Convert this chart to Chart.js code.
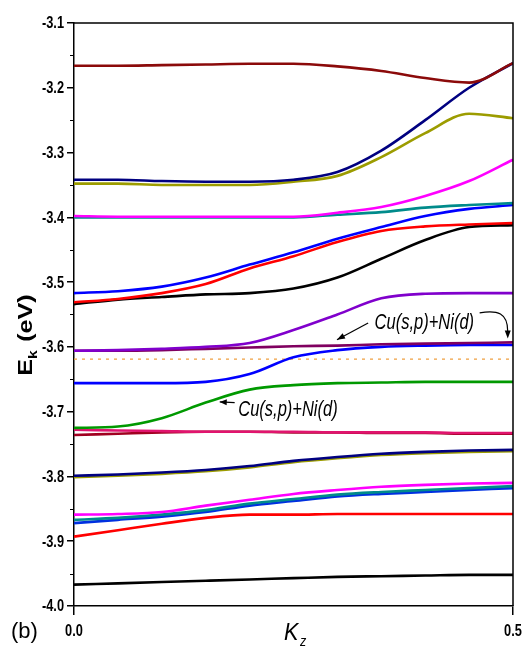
<!DOCTYPE html>
<html>
<head>
<meta charset="utf-8">
<script src="https://cdn.jsdelivr.net/npm/chart.js@4.4.0/dist/chart.umd.min.js"></script>
<style>
  html, body { margin: 0; padding: 0; background: #fff; }
  #wrap { width: 522px; height: 648px; position: relative; }
</style>
</head>
<body>
<div id="wrap"><canvas id="myChart"></canvas></div>
<script>
// k points along z
const kz = [0, 0.05, 0.1, 0.15, 0.2, 0.25, 0.3, 0.35, 0.4, 0.45, 0.5];
const xTicks = [0, 0.5];
const yMin = -4.0;
const yMax = -3.1;
const fermiLevel = -3.619;

// bands, top to bottom (eV)
const bandTopRed = [-3.166, -3.166, -3.165, -3.164, -3.163, -3.163, -3.167, -3.174, -3.185, -3.192, -3.162];
const bandNavy = [-3.342, -3.342, -3.344, -3.345, -3.345, -3.342, -3.330, -3.297, -3.250, -3.200, -3.162];
const bandOlive = [-3.348, -3.348, -3.350, -3.350, -3.350, -3.345, -3.336, -3.307, -3.270, -3.240, -3.247];
const bandMagenta = [-3.398, -3.399, -3.399, -3.399, -3.399, -3.399, -3.393, -3.384, -3.367, -3.344, -3.311];
const bandTeal = [-3.400, -3.400, -3.400, -3.400, -3.400, -3.400, -3.396, -3.392, -3.385, -3.381, -3.378];
const bandBlue = [-3.517, -3.514, -3.507, -3.493, -3.473, -3.454, -3.433, -3.415, -3.398, -3.387, -3.381];
const bandRed = [-3.531, -3.526, -3.517, -3.503, -3.479, -3.460, -3.438, -3.421, -3.414, -3.411, -3.409];
const bandBlack = [-3.534, -3.527, -3.523, -3.519, -3.517, -3.510, -3.493, -3.464, -3.435, -3.415, -3.412];
const bandViolet = [-3.606, -3.605, -3.603, -3.600, -3.594, -3.574, -3.550, -3.525, -3.518, -3.517, -3.517];
const bandPurple = [-3.606, -3.606, -3.605, -3.603, -3.601, -3.599, -3.598, -3.596, -3.595, -3.594, -3.593];
const bandBlue2 = [-3.656, -3.656, -3.656, -3.654, -3.642, -3.616, -3.605, -3.600, -3.598, -3.597, -3.597];
const bandGreen = [-3.725, -3.723, -3.710, -3.686, -3.666, -3.659, -3.656, -3.655, -3.654, -3.654, -3.654];
const bandPink = [-3.728, -3.729, -3.730, -3.731, -3.731, -3.731, -3.732, -3.732, -3.732, -3.733, -3.733];
const bandDarkRed = [-3.736, -3.734, -3.732, -3.731, -3.731, -3.732, -3.732, -3.733, -3.733, -3.734, -3.734];
const bandNavy2 = [-3.799, -3.797, -3.794, -3.790, -3.784, -3.776, -3.770, -3.765, -3.762, -3.760, -3.759];
const bandOlive2 = [-3.801, -3.799, -3.796, -3.792, -3.786, -3.778, -3.772, -3.767, -3.764, -3.762, -3.761];
const bandMagenta2 = [-3.859, -3.858, -3.855, -3.845, -3.836, -3.827, -3.821, -3.816, -3.813, -3.811, -3.810];
const bandTeal2 = [-3.867, -3.864, -3.859, -3.852, -3.842, -3.835, -3.828, -3.824, -3.821, -3.818, -3.815];
const bandBlue3 = [-3.872, -3.867, -3.862, -3.855, -3.845, -3.838, -3.831, -3.827, -3.824, -3.821, -3.818];
const bandRed2 = [-3.893, -3.883, -3.873, -3.864, -3.859, -3.859, -3.858, -3.858, -3.858, -3.858, -3.858];
const bandBlack2 = [-3.967, -3.965, -3.963, -3.961, -3.959, -3.957, -3.955, -3.954, -3.953, -3.952, -3.952];

const sans = "'Liberation Sans', Arial, sans-serif";

// first in list is drawn on top
const bands = [
  [bandTopRed, "#8b0a0a"],
  [bandNavy, "#000080"],
  [bandOlive, "#9c9c00"],
  [bandMagenta, "#ff00ff"],
  [bandTeal, "#008b8b"],
  [bandBlue, "#0000ff"],
  [bandRed, "#ff0000"],
  [bandBlack, "#000000"],
  [bandViolet, "#8000cc"],
  [bandPurple, "#800060"],
  [bandBlue2, "#0000ff"],
  [bandGreen, "#009900"],
  [bandPink, "#e0146e"],
  [bandDarkRed, "#a00020"],
  [bandNavy2, "#000080"],
  [bandOlive2, "#9c9c00"],
  [bandMagenta2, "#ff00ff"],
  [bandTeal2, "#008b8b"],
  [bandBlue3, "#0030e0"],
  [bandRed2, "#ff0000"],
  [bandBlack2, "#000000"],
];

const datasets = bands.map(function (b) {
  return {
    data: kz.map(function (k, i) { return { x: k, y: b[0][i] }; }),
    borderColor: b[1],
    borderWidth: 2.6,
    pointRadius: 0,
    cubicInterpolationMode: "monotone",
    fill: false,
  };
});
datasets.push({
  data: [{ x: kz[0], y: fermiLevel }, { x: kz[kz.length - 1], y: fermiLevel }],
  borderColor: "#f0a040",
  borderWidth: 1.2,
  borderDash: [3, 5],
  pointRadius: 0,
});

function arrowHead(ctx, x, y, ang, len, w) {
  ctx.save();
  ctx.translate(x, y);
  ctx.rotate(ang);
  ctx.beginPath();
  ctx.moveTo(0, 0);
  ctx.lineTo(-len, -w);
  ctx.lineTo(-len, w);
  ctx.closePath();
  ctx.fill();
  ctx.restore();
}

// narrow text: the original font is condensed
function narrowText(ctx, txt, x, y, sx) {
  ctx.save();
  ctx.translate(x, y);
  ctx.scale(sx, 1);
  ctx.fillText(txt, 0, 0);
  ctx.restore();
}

// frame, minor ticks, tick labels, titles and the notes
const extras = {
  id: "extras",
  afterDraw(chart) {
    const ctx = chart.ctx;
    const a = chart.chartArea;
    const xs = chart.scales.x;
    const ys = chart.scales.y;
    ctx.save();
    ctx.strokeStyle = "#000";
    ctx.fillStyle = "#000";
    ctx.lineWidth = 1.5;
    ctx.beginPath();
    ctx.moveTo(a.left, a.top);
    ctx.lineTo(a.right, a.top);
    ctx.lineTo(a.right, a.bottom);
    ctx.stroke();
    // minor ticks between labels
    ctx.lineWidth = 1;
    for (let v = yMin + 0.05; v < yMax; v += 0.1) {
      const py = Math.round(ys.getPixelForValue(v)) + 0.5;
      ctx.beginPath();
      ctx.moveTo(a.left - 4, py);
      ctx.lineTo(a.left, py);
      ctx.stroke();
    }

    // tick labels from the scales
    ctx.font = "bold 16px " + sans;
    ctx.textBaseline = "middle";
    ctx.textAlign = "right";
    ys.ticks.forEach(function (t) {
      narrowText(ctx, t.value.toFixed(1), a.left - 10, ys.getPixelForValue(t.value) + 1, 0.8);
    });
    ctx.textAlign = "center";
    xs.ticks.forEach(function (t) {
      narrowText(ctx, t.value.toFixed(1), xs.getPixelForValue(t.value), a.bottom + 26, 0.8);
    });

    // y title, stretched like the original
    ctx.save();
    ctx.translate(25, 335);
    ctx.rotate(-Math.PI / 2);
    ctx.scale(1.2, 1);
    ctx.textAlign = "left";
    ctx.textBaseline = "alphabetic";
    ctx.font = "bold 21px " + sans;
    const wE = ctx.measureText("E").width;
    const wRest = ctx.measureText("(eV)").width;
    ctx.font = "bold 13px " + sans;
    const wK = ctx.measureText("k").width;
    const gap = 7;
    let tx = -(wE + wK + gap + wRest) / 2;
    ctx.font = "bold 21px " + sans;
    ctx.fillText("E", tx, 7);
    tx += wE;
    ctx.font = "bold 13px " + sans;
    ctx.fillText("k", tx, 12);
    tx += wK + gap;
    ctx.font = "bold 21px " + sans;
    ctx.fillText("(eV)", tx, 7);
    ctx.restore();

    // x title
    ctx.textAlign = "left";
    ctx.textBaseline = "alphabetic";
    ctx.font = "italic 24px " + sans;
    narrowText(ctx, "K", 284, 640, 0.9);
    ctx.font = "italic 14px " + sans;
    narrowText(ctx, "z", 300, 646, 0.9);

    // panel letter
    ctx.font = "22px " + sans;
    ctx.fillText("(b)", 11, 638);

    // notes
    ctx.font = "italic 22px " + sans;
    ctx.textAlign = "center";
    ctx.textBaseline = "middle";
    narrowText(ctx, "Cu(s,p)+Ni(d)", xs.getPixelForValue(0.399), ys.getPixelForValue(-3.563), 0.75);
    narrowText(ctx, "Cu(s,p)+Ni(d)", xs.getPixelForValue(0.2437), ys.getPixelForValue(-3.697), 0.75);

    ctx.lineWidth = 1.2;
    // arrow 1 to the violet/purple pair
    let x1 = xs.getPixelForValue(0.335), y1 = ys.getPixelForValue(-3.563);
    let x2 = xs.getPixelForValue(0.2995), y2 = ys.getPixelForValue(-3.589);
    ctx.beginPath();
    ctx.moveTo(x1, y1);
    ctx.lineTo(x2, y2);
    ctx.stroke();
    arrowHead(ctx, x2, y2, Math.atan2(y2 - y1, x2 - x1), 8, 3);

    // curved arrow at the zone edge
    x1 = xs.getPixelForValue(0.462); y1 = ys.getPixelForValue(-3.5475);
    x2 = xs.getPixelForValue(0.494); y2 = ys.getPixelForValue(-3.587);
    ctx.beginPath();
    ctx.moveTo(x1, y1);
    ctx.bezierCurveTo(x1 + 18, y1 - 3, x2, y1, x2, y2 - 7);
    ctx.stroke();
    arrowHead(ctx, x2, y2, Math.PI / 2, 8, 3);

    // arrow to the green band
    x1 = xs.getPixelForValue(0.183); y1 = ys.getPixelForValue(-3.686);
    x2 = xs.getPixelForValue(0.166); y2 = ys.getPixelForValue(-3.685);
    ctx.beginPath();
    ctx.moveTo(x1, y1);
    ctx.lineTo(x2, y2);
    ctx.stroke();
    arrowHead(ctx, x2, y2, Math.atan2(y2 - y1, x2 - x1), 7, 3);
    ctx.restore();
  },
};

const ctx = document.querySelector("#myChart");
const chart = new Chart(ctx, {
  type: "line",
  data: { datasets: datasets },
  options: {
    responsive: true,
    maintainAspectRatio: false,
    animation: false,
    devicePixelRatio: 1,
    layout: { padding: { top: 23, right: 9, bottom: 0, left: 0 } },
    plugins: { legend: { display: false }, tooltip: { enabled: false } },
    scales: {
      x: {
        type: "linear",
        min: 0,
        max: 0.5,
        afterBuildTicks: function (s) {
          s.ticks = xTicks.map(function (v) { return { value: v }; });
        },
        afterFit: function (s) {
          s.height = 42;
          s.paddingLeft = 0;
          s.paddingRight = 0;
        },
        ticks: { display: false },
        grid: { drawOnChartArea: false, tickLength: 9, color: "#000", lineWidth: 1.5 },
        border: { color: "#000", width: 1.5 },
      },
      y: {
        type: "linear",
        min: yMin,
        max: yMax,
        afterFit: function (s) {
          s.width = 74;
          s.paddingTop = 0;
          s.paddingBottom = 0;
        },
        ticks: { display: false, stepSize: 0.1 },
        grid: { drawOnChartArea: false, tickLength: 7, color: "#000", lineWidth: 1.5 },
        border: { color: "#000", width: 1.5 },
      },
    },
  },
  plugins: [extras],
});
</script>
</body>
</html>
